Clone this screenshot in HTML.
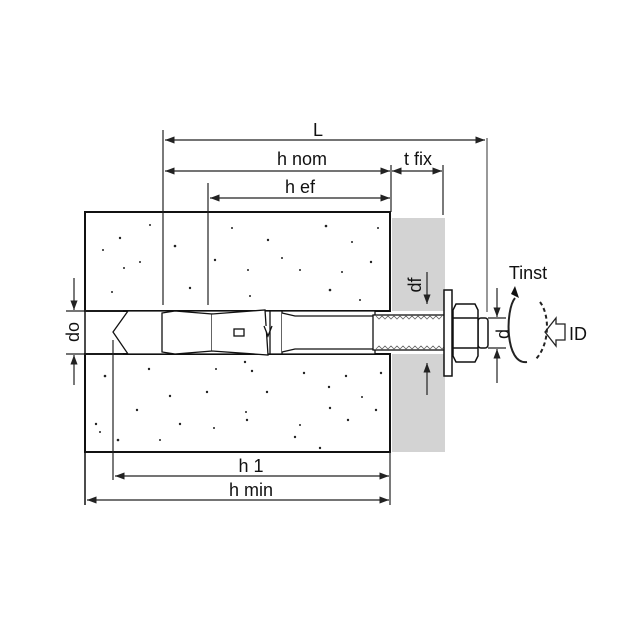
<!DOCTYPE html>
<html><head><style>body{margin:0;background:#fff}svg{display:block}</style></head><body>
<svg width="640" height="640" viewBox="0 0 640 640" xmlns="http://www.w3.org/2000/svg" font-family="Liberation Sans, sans-serif">
<defs><marker id="a" markerWidth="8" markerHeight="6" refX="8" refY="3" orient="auto-start-reverse"><path d="M0,0 L8,3 L0,6" fill="#222"/></marker></defs>
<rect width="640" height="640" fill="#fff"/>
<rect x="392" y="218" width="53" height="234" fill="#d3d3d3"/>
<rect x="392" y="311" width="53" height="43" fill="#fff"/>
<rect x="85" y="212" width="305" height="99" fill="#fff" stroke="#111" stroke-width="2"/>
<rect x="85" y="354" width="305" height="98" fill="#fff" stroke="#111" stroke-width="2"/>
<line x1="85" y1="311" x2="85" y2="505" stroke="#111" stroke-width="1.5"/>
<g fill="#222">
<circle cx="120" cy="238" r="1.2"/><circle cx="140" cy="262" r="1"/><circle cx="175" cy="246" r="1.3"/><circle cx="232" cy="228" r="1"/><circle cx="268" cy="240" r="1.2"/><circle cx="300" cy="270" r="1"/><circle cx="326" cy="226" r="1.3"/><circle cx="352" cy="242" r="1"/><circle cx="371" cy="262" r="1.2"/><circle cx="112" cy="292" r="1"/><circle cx="190" cy="288" r="1.2"/><circle cx="250" cy="296" r="1"/><circle cx="330" cy="290" r="1.3"/><circle cx="360" cy="300" r="1"/><circle cx="282" cy="258" r="1"/><circle cx="150" cy="225" r="1"/><circle cx="215" cy="260" r="1.2"/><circle cx="378" cy="228" r="1"/><circle cx="124" cy="268" r="1"/><circle cx="342" cy="272" r="1"/><circle cx="248" cy="270" r="1"/><circle cx="103" cy="250" r="1"/>
<circle cx="105" cy="376" r="1.3"/><circle cx="149" cy="369" r="1.2"/><circle cx="170" cy="396" r="1.2"/><circle cx="137" cy="410" r="1.2"/><circle cx="180" cy="424" r="1.2"/><circle cx="118" cy="440" r="1.3"/><circle cx="160" cy="440" r="1"/><circle cx="216" cy="369" r="1"/><circle cx="207" cy="392" r="1.2"/><circle cx="247" cy="420" r="1.2"/><circle cx="246" cy="412" r="1"/><circle cx="245" cy="362" r="1.2"/><circle cx="252" cy="371" r="1.2"/><circle cx="267" cy="392" r="1.2"/><circle cx="304" cy="373" r="1.2"/><circle cx="329" cy="387" r="1.2"/><circle cx="330" cy="408" r="1.2"/><circle cx="346" cy="376" r="1.2"/><circle cx="362" cy="397" r="1"/><circle cx="376" cy="410" r="1.2"/><circle cx="381" cy="373" r="1.2"/><circle cx="348" cy="420" r="1.2"/><circle cx="295" cy="437" r="1.2"/><circle cx="320" cy="448" r="1.2"/><circle cx="96" cy="424" r="1.2"/><circle cx="100" cy="432" r="1"/><circle cx="300" cy="425" r="1"/><circle cx="214" cy="428" r="1"/>
</g>
<g fill="#fff" stroke="#111" stroke-width="1.3">
<path d="M113,332 L128,311 L375,311 L375,354 L128,354 Z"/>
<path d="M162,313 L175,311 L212,314 L212,351 L175,354 L162,352 Z"/>
<path d="M212,314 L265,310 L268,355 L212,351"/>
<rect x="234" y="329" width="10" height="7"/>
<path d="M264,326 L268,336 L272,326"/>
<line x1="270" y1="311" x2="270" y2="354"/><line x1="282" y1="311" x2="282" y2="354"/>
<path d="M282,313 L295,316 L375,316 L375,349 L295,349 L282,352"/>
<rect x="373" y="315" width="72" height="35"/>
</g>
<g stroke="#666" stroke-width="0.8">
<path d="M376,316 l3,3 l3,-3 l3,3 l3,-3 l3,3 l3,-3 l3,3 l3,-3 l3,3 l3,-3 l3,3 l3,-3 l3,3 l3,-3 l3,3 l3,-3 l3,3 l3,-3 l3,3 l3,-3 l3,3 l3,-3" fill="none"/>
<path d="M376,349 l3,-3 l3,3 l3,-3 l3,3 l3,-3 l3,3 l3,-3 l3,3 l3,-3 l3,3 l3,-3 l3,3 l3,-3 l3,3 l3,-3 l3,3 l3,-3 l3,3 l3,-3 l3,3 l3,-3 l3,3 l3,-3" fill="none"/>
</g>
<g fill="#fff" stroke="#111" stroke-width="1.5">
<rect x="444" y="290" width="8" height="86"/>
<rect x="478" y="318" width="10" height="30" rx="3"/>
<path d="M456,304 L475,304 L478,310 L478,356 L475,362 L456,362 L453,356 L453,310 Z"/>
<line x1="453" y1="318" x2="478" y2="318"/><line x1="453" y1="348" x2="478" y2="348"/>
</g>
<g stroke="#222" stroke-width="1.2" fill="none">
<line x1="163" y1="130" x2="163" y2="305"/>
<line x1="487" y1="138" x2="487" y2="312" stroke="#555"/>
<line x1="165" y1="140" x2="485" y2="140" marker-start="url(#a)" marker-end="url(#a)"/>
<line x1="165" y1="171" x2="390" y2="171" marker-start="url(#a)" marker-end="url(#a)"/>
<line x1="391" y1="165" x2="391" y2="212"/>
<line x1="392" y1="171" x2="442" y2="171" marker-start="url(#a)" marker-end="url(#a)"/>
<line x1="443" y1="165" x2="443" y2="215"/>
<line x1="208" y1="183" x2="208" y2="305"/>
<line x1="210" y1="198" x2="390" y2="198" marker-start="url(#a)" marker-end="url(#a)"/>
<line x1="113" y1="340" x2="113" y2="480"/>
<line x1="115" y1="476" x2="389" y2="476" marker-start="url(#a)" marker-end="url(#a)"/>
<line x1="390" y1="452" x2="390" y2="505"/>
<line x1="87" y1="500" x2="389" y2="500" marker-start="url(#a)" marker-end="url(#a)"/>
<line x1="66" y1="311" x2="123" y2="311"/><line x1="66" y1="354" x2="123" y2="354"/>
<line x1="74" y1="278" x2="74" y2="310" marker-end="url(#a)"/>
<line x1="74" y1="385" x2="74" y2="355" marker-end="url(#a)"/>
<line x1="427" y1="272" x2="427" y2="304" marker-end="url(#a)"/>
<line x1="427" y1="395" x2="427" y2="363" marker-end="url(#a)"/>
<line x1="488" y1="318" x2="506" y2="318"/><line x1="488" y1="348" x2="506" y2="348"/>
<line x1="497" y1="288" x2="497" y2="317" marker-end="url(#a)"/>
<line x1="497" y1="383" x2="497" y2="349" marker-end="url(#a)"/>
<path d="M527,362 C505,365 505,310 515,298" stroke-width="2"/>
<path d="M540,302 C550,315 550,345 535,360" stroke-width="2" stroke-dasharray="4,3"/>
<path d="M565,324 L556,324 L556,318 L545,332 L556,346 L556,340 L565,340 Z" stroke-width="1.3"/>
</g>
<path d="M511,294 L519,298 L515,286 Z" fill="#111"/>
<g font-size="18" fill="#111" text-anchor="middle">
<text x="318" y="136">L</text>
<text x="302" y="165">h nom</text>
<text x="418" y="165">t fix</text>
<text x="300" y="193">h ef</text>
<text x="251" y="472">h 1</text>
<text x="251" y="496">h min</text>
<text x="528" y="279">Tinst</text>
<text x="578" y="340">ID</text>
<text transform="translate(79,332) rotate(-90)">do</text>
<text transform="translate(421,285) rotate(-90)">df</text>
<text transform="translate(509,334) rotate(-90)">d</text>
</g>
</svg>
</body></html>
